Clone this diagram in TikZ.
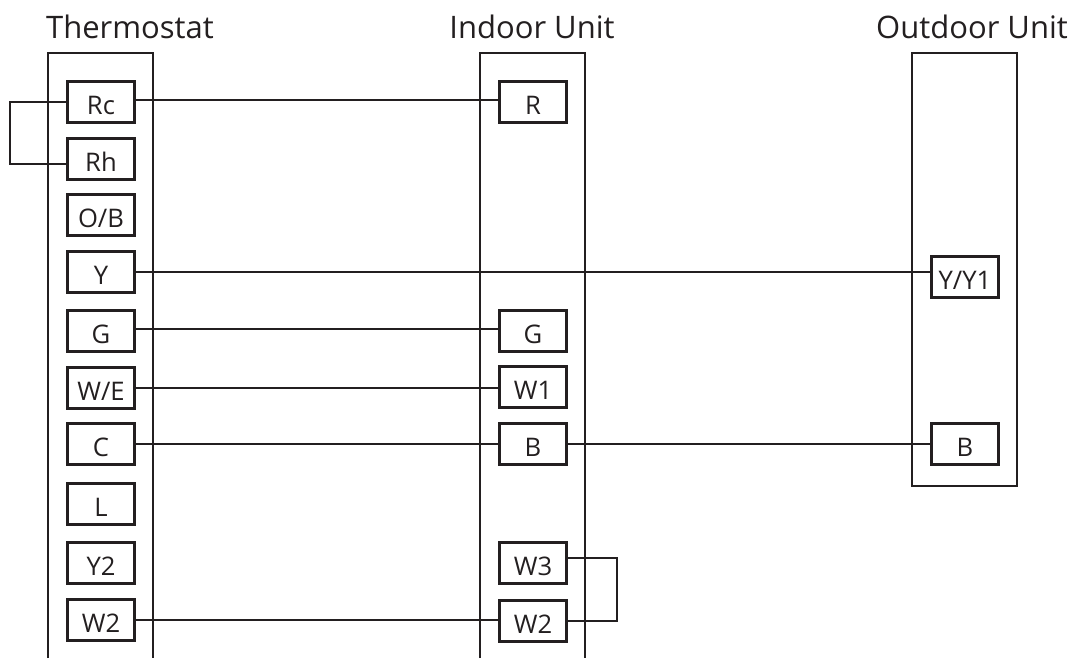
\documentclass[tikz,border=0pt]{standalone}
\usepackage{fontspec}
\setmainfont{Open Sans}
\usetikzlibrary{calc}
\definecolor{ink}{RGB}{35,31,32}
\tikzset{
	terminal/.style={draw=ink, line width=1.4pt, minimum width=33.5pt, minimum height=20.5pt, inner sep=0pt, text height=12pt, text depth=0pt, text=ink, font=\fontsize{12.8}{13}\selectfont},
	title/.style={text=ink, inner sep=0pt, font=\fontsize{15.5}{17}\selectfont},
	housing/.style={draw=ink, line width=1.15pt},
	wire/.style={draw=ink, line width=1.3pt}
}
\begin{document}
\begin{tikzpicture}[x=0.5pt, y=-0.5pt]
		%%%%% START %%%%%
		\useasboundingbox (0, 0) rectangle (1074, 658);
		
		\node[title] (thermostat) at (130, 27) {Thermostat};
		\node[title] (indoor) at (532, 27) {Indoor Unit};
		\node[title] (outdoor) at (972, 27) {Outdoor Unit};
		
		\draw[housing] (48, 658) -- (48, 53) -- (153, 53) -- (153, 658);
		\draw[housing] (480, 658) -- (480, 53) -- (585, 53) -- (585, 658);
		\draw[housing] (912, 53) rectangle (1017, 486);
		
		\node[terminal] (Rc) at (101, 102) {Rc};
		\node[terminal] (Rh) at (101, 159) {Rh};
		\node[terminal] (OB) at (101, 215) {O/B};
		\node[terminal] (Y) at (101, 272) {Y};
		\node[terminal] (G) at (101, 331) {G};
		\node[terminal] (WE) at (101, 388) {W/E};
		\node[terminal] (C) at (101, 444) {C};
		\node[terminal] (L) at (101, 504) {L};
		\node[terminal] (Y2) at (101, 563) {Y2};
		\node[terminal] (W2) at (101, 620) {W2};
		
		\node[terminal] (inR) at (533, 102) {R};
		\node[terminal] (inG) at (533, 331) {G};
		\node[terminal] (inW1) at (533, 387) {W1};
		\node[terminal] (inB) at (533, 444) {B};
		\node[terminal] (inW3) at (533, 563) {W3};
		\node[terminal] (inW2) at (533, 621) {W2};
		
		\node[terminal] (outY) at (965, 277) {Y/Y1};
		\node[terminal] (outB) at (965, 444) {B};
		
		\draw[wire] ([yshift=1pt]Rc.east) -- ([yshift=1pt]inR.west);
		\draw[wire] (Y.east) -- ([yshift=2.5pt]outY.west);
		\draw[wire] ([yshift=1pt]G.east) -- ([yshift=1pt]inG.west);
		\draw[wire] (WE.east) -- (inW1.west |- WE.east);
		\draw[wire] (C.east) -- (inB.west);
		\draw[wire] (inB.east) -- (outB.west);
		\draw[wire] (W2.east) -- (inW2.west |- W2.east);
		
		\draw[wire] (Rc.west) -- (10, 102) -- (10, 164) -- ([yshift=-2.5pt]Rh.west);
		\draw[wire] ([yshift=2.5pt]inW3.east) -- (617, 558) -- (617, 621) -- (inW2.east);
		
		%%%%% END %%%%%
	\end{tikzpicture}
\end{document}
